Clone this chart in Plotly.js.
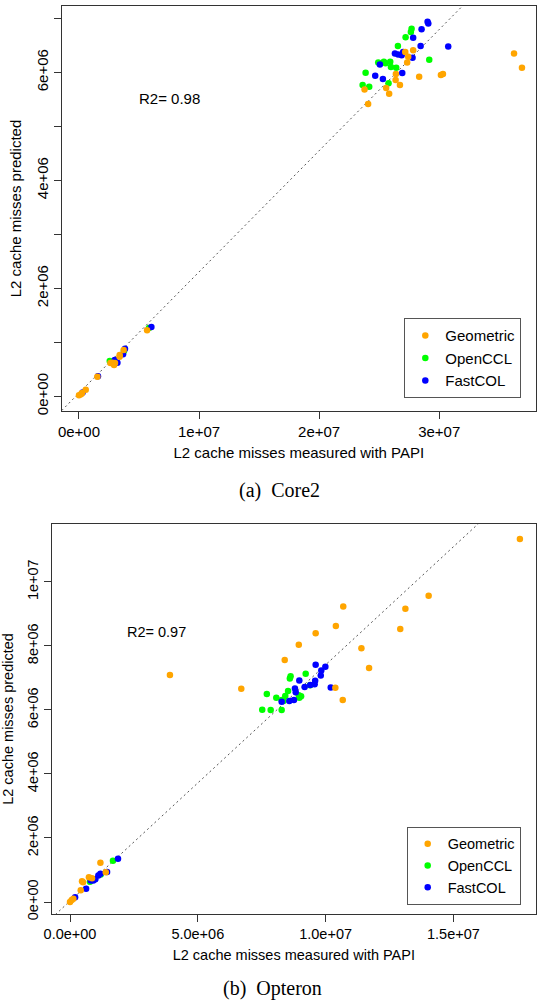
<!DOCTYPE html>
<html>
<head>
<meta charset="utf-8">
<script src="https://cdn.plot.ly/plotly-3.0.1.min.js"></script>
<style>
html,body{margin:0;padding:0;background:#fff;}
#chart{width:537px;height:1005px;}
</style>
</head>
<body>
<div id="chart"></div>
<script>
// ---------- Data: Core2 (panel a) ----------
var core2GeoX = [3.623e7,3.689e7,2.783e7,2.717e7,2.742e7,2.733e7,2.639e7,2.833e7,3.014e7,3.031e7,2.637e7,2.673e7,2.558e7,2.378e7,2.583e7,2.408e7,
                 5.67e6,3.72e6,3.39e6,3.38e6,3.0e6,2.78e6,2.62e6,2.92e6,1.53e6,5.6e5,2.5e5,0,1.7e5];
var core2GeoY = [6.35e6,6.085e6,6.41e6,6.38e6,6.29e6,6.185e6,5.97e6,5.92e6,5.95e6,5.97e6,5.86e6,5.765e6,5.71e6,5.685e6,5.604e6,5.413e6,
                 1.222e6,8.57e5,7.65e5,7.35e5,6.17e5,6.22e5,6.17e5,5.8e5,3.63e5,1.22e5,6.1e4,1.8e4,4e4];
var core2OccX  = [2.77e7,2.764e7,2.72e7,2.656e7,2.492e7,2.539e7,2.553e7,2.592e7,2.598e7,2.642e7,2.917e7,2.387e7,2.362e7,2.417e7,2.578e7,
                  5.83e6,2.56e6,3.75e6];
var core2OccY  = [6.81e6,6.75e6,6.65e6,6.49e6,6.185e6,6.197e6,6.17e6,6.197e6,6.1e6,6.085e6,6.233e6,5.993e6,5.765e6,5.733e6,5.80e6,
                  1.265e6,6.54e5,8.4e5];
var core2FcX   = [2.903e7,2.909e7,2.853e7,2.783e7,3.075e7,2.845e7,2.70e7,2.631e7,2.658e7,2.687e7,2.778e7,2.506e7,2.692e7,2.467e7,2.531e7,
                  6.03e6,3.83e6,3.67e6,3.2e6,2.98e6,1.58e6,3.0e5];
var core2FcY   = [6.937e6,6.907e6,6.80e6,6.64e6,6.48e6,6.487e6,6.38e6,6.35e6,6.33e6,6.32e6,6.27e6,6.148e6,5.99e6,5.937e6,5.88e6,
                  1.283e6,8.8e5,7.78e5,6.22e5,6.72e5,3.7e5,7e4];
var core2Fit = {intercept: 6e4, slope: 0.2245};
var core2R2 = "R2= 0.98";

// ---------- Data: Opteron (panel b) ----------
var optGeoX = [1.76e7,1.403e7,1.069e7,1.312e7,1.04e7,1.292e7,9.61e6,8.95e6,1.14e7,1.17e7,1.038e7,1.067e7,8.40e6,6.70e6,3.91e6,
               1.19e6,1.40e6,7.4e5,8.6e5,4.7e5,5.1e5,4.2e5,6.6e4,0,1.3e5];
var optGeoY = [1.134e7,9.57e6,9.23e6,9.16e6,8.625e6,8.53e6,8.40e6,8.04e6,7.93e6,7.31e6,6.69e6,6.31e6,7.56e6,6.66e6,7.09e6,
               1.23e6,9.3e5,7.7e5,7.4e5,6.5e5,6.2e5,3.7e5,6.3e4,0,1.0e5];
var optOccX = [9.22e6,9.04e6,8.63e6,8.60e6,7.70e6,8.53e6,8.07e6,8.42e6,8.95e6,8.97e6,8.28e6,8.35e6,7.52e6,7.85e6,8.28e6,9.39e6,
               1.68e6,7.8e5,1.2e6];
var optOccY = [7.13e6,6.43e6,7.05e6,6.98e6,6.50e6,6.59e6,6.38e6,6.44e6,6.46e6,6.38e6,6.31e6,6.28e6,6.01e6,6.0e6,6.0e6,6.77e6,
               1.29e6,6.3e5,8.6e5];
var optFcX  = [9.61e6,9.99e6,9.83e6,9.81e6,9.59e6,9.57e6,9.40e6,9.18e6,1.02e7,8.97e6,8.80e6,8.83e6,8.76e6,8.58e6,8.28e6,
               1.878e6,1.45e6,1.19e6,1.11e6,9.9e5,9.1e5,8.1e5,6.3e5,2.0e5];
var optFcY  = [7.41e6,7.35e6,7.23e6,7.08e6,6.91e6,6.80e6,6.78e6,6.72e6,6.70e6,6.92e6,6.67e6,6.55e6,6.31e6,6.28e6,6.26e6,
               1.353e6,9.4e5,8.8e5,8.3e5,7.1e5,6.7e5,6.7e5,4.1e5,1.5e5];
var optFit = {intercept: 3e4, slope: 0.738};
var optR2 = "R2= 0.97";

// ---------- Tick labels ----------
var core2XTickVals = [0,1e7,2e7,3e7];
var core2XTickText = ["0e+00","1e+07","2e+07","3e+07"];
var core2YTickVals = [0,1e6,2e6,3e6,4e6,5e6,6e6,7e6];
var core2YTickText = ["0e+00","","2e+06","","4e+06","","6e+06",""];
var optXTickVals = [0,5e6,1e7,1.5e7];
var optXTickText = ["0.0e+00","5.0e+06","1.0e+07","1.5e+07"];
var optYTickVals = [0,2e6,4e6,6e6,8e6,1e7];
var optYTickText = ["0e+00","2e+06","4e+06","6e+06","8e+06","1e+07"];

var seriesNames = ["Geometric","OpenCCL","FastCOL"];
var seriesColors = ["#FFA500","#00FF00","#0000FF"];

// ---------- Build ----------
var W = 537, H = 1005;
var core2XRange = [-1.44e6, 3.806e7], core2YRange = [-2.72e5, 7.23e6];
var optXRange = [-7.16e5, 1.823e7], optYRange = [-3.75e5, 1.181e7];
var FONT = "Liberation Sans, Arial, Helvetica, sans-serif";

function pts(name, color, x, y, xa, ya, leg, rank) {
  return {type:'scatter', mode:'markers', name:name, x:x, y:y, xaxis:xa, yaxis:ya,
    legend:leg, legendrank:rank,
    marker:{color:color, size:6.5, line:{width:0}}, hoverinfo:'x+y'};
}
function fitLine(fit, xr, xa, ya) {
  var xs = [xr[0], xr[1]];
  return {type:'scatter', mode:'lines', x:xs, y:xs.map(function(v){return fit.intercept + fit.slope*v;}),
    xaxis:xa, yaxis:ya, showlegend:false, hoverinfo:'skip',
    line:{color:'#555', width:1, dash:'2px,3px'}};
}

var data = [
  fitLine(core2Fit, core2XRange, 'x', 'y'),
  pts(seriesNames[1], seriesColors[1], core2OccX, core2OccY, 'x', 'y', 'legend', 2),
  pts(seriesNames[2], seriesColors[2], core2FcX, core2FcY, 'x', 'y', 'legend', 3),
  pts(seriesNames[0], seriesColors[0], core2GeoX, core2GeoY, 'x', 'y', 'legend', 1),
  fitLine(optFit, optXRange, 'x2', 'y2'),
  pts(seriesNames[1], seriesColors[1], optOccX, optOccY, 'x2', 'y2', 'legend2', 2),
  pts(seriesNames[2], seriesColors[2], optFcX, optFcY, 'x2', 'y2', 'legend2', 3),
  pts(seriesNames[0], seriesColors[0], optGeoX, optGeoY, 'x2', 'y2', 'legend2', 1)
];

function axis(extra) {
  var base = {showline:true, mirror:true, linecolor:'#333', linewidth:1, ticks:'outside', ticklen:7,
    tickwidth:1, tickcolor:'#333', showgrid:false, zeroline:false, tickmode:'array', automargin:false,
    tickfont:{family:FONT, size:15, color:'#000'}};
  for (var k in extra) base[k] = extra[k];
  return base;
}

var layout = {
  width:W, height:H, margin:{l:0,r:0,t:0,b:0}, paper_bgcolor:'#fff', plot_bgcolor:'#fff',
  font:{family:FONT, size:15, color:'#000'},
  xaxis: axis({domain:[61.7/W, 536/W], range:core2XRange, tickvals:core2XTickVals, ticktext:core2XTickText, anchor:'y',
    title:{text:'L2 cache misses measured with PAPI', font:{family:FONT,size:15,color:'#000'}, standoff:8}}),
  yaxis: axis({domain:[1-411/H, 1-6/H], range:core2YRange, tickvals:core2YTickVals, ticktext:core2YTickText, anchor:'x', tickangle:-90,
    title:{text:'L2 cache misses predicted', font:{family:FONT,size:15,color:'#000'}, standoff:8}}),
  xaxis2: axis({domain:[51.7/W, 536/W], range:optXRange, tickvals:optXTickVals, ticktext:optXTickText, anchor:'y2',
    tickfont:{family:FONT, size:14.5, color:'#000'},
    title:{text:'L2 cache misses measured with PAPI', font:{family:FONT,size:14.5,color:'#000'}, standoff:8}}),
  yaxis2: axis({domain:[1-914/H, 1-524/H], range:optYRange, tickvals:optYTickVals, ticktext:optYTickText, anchor:'x2', tickangle:-90,
    tickfont:{family:FONT, size:14.5, color:'#000'},
    title:{text:'L2 cache misses predicted', font:{family:FONT,size:14.5,color:'#000'}, standoff:8}}),
  legend: {x:404.3/W, y:1-318.3/H, xanchor:'left', yanchor:'top', bgcolor:'#fff', bordercolor:'#555', borderwidth:1,
    font:{family:FONT, size:15, color:'#000'}, tracegroupgap:0, itemsizing:'trace'},
  legend2: {x:406.7/W, y:1-826.7/H, xanchor:'left', yanchor:'top', bgcolor:'#fff', bordercolor:'#555', borderwidth:1,
    font:{family:FONT, size:14.5, color:'#000'}, tracegroupgap:0, itemsizing:'trace'},
  showlegend:true,
  annotations: [
    {text:core2R2, xref:'paper', yref:'paper', x:137/W, y:1-98/H, xanchor:'left', yanchor:'middle', showarrow:false,
     font:{family:FONT, size:15, color:'#000'}},
    {text:optR2, xref:'paper', yref:'paper', x:125/W, y:1-632/H, xanchor:'left', yanchor:'middle', showarrow:false,
     font:{family:FONT, size:14.5, color:'#000'}},
    {text:'(a)\u00a0\u00a0Core2', xref:'paper', yref:'paper', x:279/W, y:1-490/H, xanchor:'center', yanchor:'middle', showarrow:false,
     font:{family:'Liberation Serif, Times New Roman, serif', size:20, color:'#000'}},
    {text:'(b)\u00a0\u00a0Opteron', xref:'paper', yref:'paper', x:272/W, y:1-988/H, xanchor:'center', yanchor:'middle', showarrow:false,
     font:{family:'Liberation Serif, Times New Roman, serif', size:20, color:'#000'}}
  ]
};

Plotly.newPlot('chart', data, layout, {staticPlot:true, displayModeBar:false});
</script>
</body>
</html>
